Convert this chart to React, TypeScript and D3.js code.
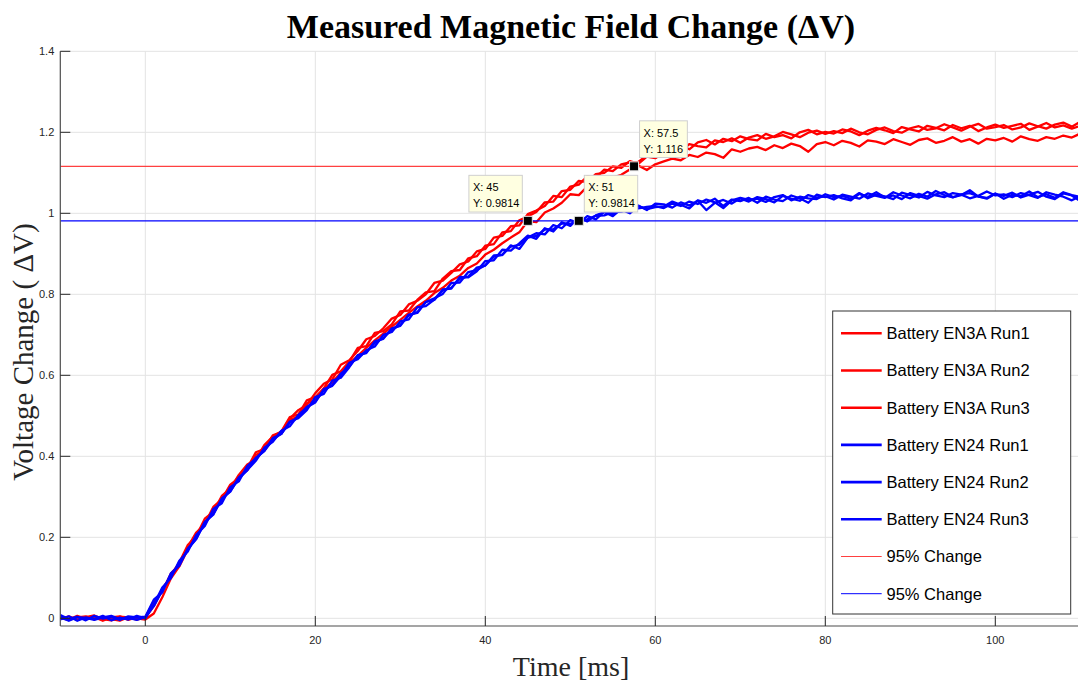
import React from "react";
import * as d3 from "d3";

const W = 1078;
const H = 686;

const timeStart = -10;
const timeStep = 1;

const en3aRun1 = [
  0.004, -0.003, 0.006, -0.002, 0.003, -0.006, 0.002, 0.005, -0.004, 0.003, 0.001,
  0.03, 0.072, 0.104, 0.138, 0.181, 0.203, 0.246, 0.263, 0.302, 0.32,
  0.354, 0.38, 0.392, 0.428, 0.449, 0.461, 0.497, 0.503, 0.538, 0.546,
  0.568, 0.601, 0.61, 0.634, 0.668, 0.672, 0.705, 0.709, 0.726, 0.758,
  0.76, 0.786, 0.805, 0.808, 0.839, 0.857, 0.86, 0.889, 0.894, 0.92,
  0.924, 0.953, 0.956, 0.983, 0.992, 1.003, 1.027, 1.029, 1.055, 1.058,
  1.08, 1.077, 1.097, 1.1, 1.116, 1.112, 1.129, 1.122, 1.14, 1.136,
  1.15, 1.158, 1.153, 1.171, 1.166, 1.163, 1.18, 1.176, 1.185, 1.174,
  1.187, 1.193, 1.184, 1.19, 1.201, 1.195, 1.188, 1.199, 1.204, 1.196,
  1.203, 1.198, 1.209, 1.2, 1.195, 1.206, 1.212, 1.203, 1.199, 1.21,
  1.215, 1.206, 1.21, 1.22, 1.212, 1.204, 1.214, 1.221, 1.209, 1.213,
  1.218, 1.207, 1.212, 1.222, 1.215, 1.209, 1.219, 1.224, 1.214, 1.226,
];

const en3aRun2 = [
  -0.002, 0.005, -0.004, 0.003, 0.007, -0.002, -0.005, 0.004, 0.002, -0.003, 0.002,
  0.042, 0.066, 0.11, 0.134, 0.176, 0.212, 0.233, 0.275, 0.294, 0.33,
  0.346, 0.371, 0.41, 0.418, 0.452, 0.46, 0.493, 0.514, 0.527, 0.556,
  0.579, 0.59, 0.626, 0.637, 0.66, 0.689, 0.697, 0.716, 0.74, 0.749,
  0.775, 0.784, 0.8, 0.828, 0.834, 0.853, 0.874, 0.881, 0.906, 0.912,
  0.94, 0.944, 0.968, 0.97, 0.998, 1.007, 1.018, 1.043, 1.04, 1.066,
  1.071, 1.091, 1.088, 1.108, 1.104, 1.121, 1.126, 1.127, 1.143, 1.138,
  1.146, 1.16, 1.167, 1.158, 1.175, 1.181, 1.17, 1.184, 1.178, 1.19,
  1.183, 1.18, 1.196, 1.188, 1.193, 1.185, 1.2, 1.206, 1.195, 1.201,
  1.197, 1.207, 1.202, 1.193, 1.204, 1.211, 1.205, 1.198, 1.213, 1.207,
  1.202, 1.216, 1.211, 1.205, 1.218, 1.21, 1.216, 1.203, 1.212, 1.219,
  1.211, 1.216, 1.221, 1.206, 1.214, 1.223, 1.212, 1.217, 1.209, 1.216,
];

const en3aRun3 = [
  0.001, -0.004, 0.002, 0.005, -0.003, 0.004, -0.002, -0.006, 0.003, 0.0, -0.003,
  0.012, 0.052, 0.098, 0.128, 0.17, 0.202, 0.235, 0.266, 0.293, 0.322,
  0.351, 0.366, 0.403, 0.414, 0.447, 0.456, 0.49, 0.498, 0.53, 0.54,
  0.566, 0.583, 0.606, 0.63, 0.648, 0.668, 0.686, 0.703, 0.72, 0.737,
  0.754, 0.77, 0.784, 0.803, 0.816, 0.834, 0.846, 0.865, 0.876, 0.898,
  0.91, 0.926, 0.94, 0.953, 0.981, 0.978, 1.002, 1.012, 1.026, 1.047,
  1.045, 1.066, 1.062, 1.081, 1.088, 1.095, 1.108, 1.118, 1.107, 1.121,
  1.128, 1.135, 1.131, 1.144, 1.139, 1.15, 1.146, 1.137, 1.158, 1.152,
  1.16, 1.164, 1.156, 1.168, 1.161, 1.172, 1.166, 1.152, 1.171, 1.176,
  1.168, 1.179, 1.174, 1.165, 1.18, 1.177, 1.171, 1.183, 1.176, 1.169,
  1.181, 1.185, 1.174, 1.179, 1.188, 1.177, 1.183, 1.172, 1.184, 1.18,
  1.186, 1.177, 1.19, 1.183, 1.179, 1.188, 1.184, 1.192, 1.187, 1.197,
];

const en24Run1 = [
  0.008, -0.002, 0.004, -0.005, 0.006, -0.001, 0.003, -0.004, 0.005, 0.002, 0.004,
  0.046, 0.064, 0.111, 0.13, 0.172, 0.197, 0.238, 0.256, 0.296, 0.313,
  0.348, 0.366, 0.389, 0.421, 0.436, 0.463, 0.474, 0.502, 0.521, 0.533,
  0.566, 0.574, 0.598, 0.631, 0.64, 0.662, 0.671, 0.7, 0.707, 0.733,
  0.738, 0.768, 0.771, 0.787, 0.812, 0.814, 0.843, 0.842, 0.857, 0.882,
  0.884, 0.91, 0.908, 0.926, 0.945, 0.937, 0.963, 0.955, 0.978, 0.969,
  0.99, 0.98, 0.995, 1.003, 0.993, 1.011, 1.004, 1.019, 1.008, 1.024,
  1.022, 1.014, 1.027, 1.019, 1.031, 1.008, 1.026, 1.033, 1.024, 1.037,
  1.029, 1.04, 1.035, 1.027, 1.043, 1.036, 1.031, 1.045, 1.039, 1.042,
  1.034, 1.046, 1.041, 1.036, 1.049, 1.043, 1.038, 1.052, 1.044, 1.037,
  1.048, 1.041, 1.055, 1.045, 1.039, 1.047, 1.05, 1.042, 1.036, 1.048,
  1.043, 1.051, 1.039, 1.046, 1.053, 1.041, 1.035, 1.049, 1.044, 1.03,
];

const en24Run2 = [
  -0.003, 0.005, -0.006, 0.002, -0.002, 0.006, -0.005, 0.002, -0.003, 0.006, 0.0,
  0.034, 0.076, 0.099, 0.142, 0.165, 0.206, 0.228, 0.27, 0.284, 0.324,
  0.338, 0.376, 0.395, 0.414, 0.445, 0.455, 0.486, 0.494, 0.514, 0.546,
  0.554, 0.587, 0.594, 0.62, 0.65, 0.655, 0.684, 0.69, 0.716, 0.722,
  0.75, 0.754, 0.781, 0.79, 0.801, 0.828, 0.829, 0.855, 0.86, 0.872,
  0.896, 0.897, 0.921, 0.912, 0.94, 0.951, 0.948, 0.971, 0.963, 0.983,
  0.976, 0.993, 0.985, 1.004, 0.998, 1.009, 1.0, 1.018, 1.01, 1.015,
  1.017, 1.029, 1.021, 1.012, 1.032, 1.026, 1.036, 1.018, 1.034, 1.03,
  1.038, 1.026, 1.041, 1.034, 1.03, 1.044, 1.037, 1.026, 1.046, 1.04,
  1.045, 1.037, 1.032, 1.048, 1.041, 1.052, 1.039, 1.044, 1.035, 1.05,
  1.043, 1.036, 1.047, 1.052, 1.04, 1.045, 1.057, 1.041, 1.038, 1.049,
  1.036, 1.046, 1.042, 1.054, 1.04, 1.047, 1.038, 1.052, 1.045, 1.04,
];

const en24Run3 = [
  0.002, -0.006, 0.003, 0.001, -0.004, 0.002, 0.006, -0.002, 0.001, -0.004, 0.003,
  0.03, 0.069, 0.106, 0.133, 0.171, 0.196, 0.237, 0.258, 0.294, 0.314,
  0.345, 0.366, 0.396, 0.413, 0.441, 0.456, 0.483, 0.497, 0.522, 0.536,
  0.563, 0.576, 0.604, 0.622, 0.648, 0.657, 0.68, 0.692, 0.713, 0.724,
  0.748, 0.756, 0.781, 0.786, 0.81, 0.816, 0.838, 0.844, 0.866, 0.871,
  0.893, 0.898, 0.918, 0.922, 0.94, 0.944, 0.96, 0.961, 0.975, 0.974,
  0.982, 0.985, 0.994, 0.995, 1.003, 1.004, 1.009, 1.012, 1.016, 1.018,
  1.013, 1.024, 1.018, 1.029, 1.023, 1.034, 1.027, 1.013, 1.032, 1.038,
  1.033, 1.036, 1.028, 1.04, 1.045, 1.032, 1.041, 1.037, 1.035, 1.047,
  1.04, 1.043, 1.036, 1.05, 1.037, 1.046, 1.042, 1.035, 1.051, 1.045,
  1.039, 1.053, 1.044, 1.04, 1.05, 1.046, 1.037, 1.043, 1.054, 1.044,
  1.047, 1.04, 1.05, 1.045, 1.038, 1.052, 1.046, 1.041, 1.032, 1.043,
];

const seriesNames = [
  "Battery EN3A Run1",
  "Battery EN3A Run2",
  "Battery EN3A Run3",
  "Battery EN24 Run1",
  "Battery EN24 Run2",
  "Battery EN24 Run3",
];
const seriesValues = [en3aRun1, en3aRun2, en3aRun3, en24Run1, en24Run2, en24Run3];
const seriesColors = ["#ff0000", "#ff0000", "#ff0000", "#0000ff", "#0000ff", "#0000ff"];

const thresholdNames = ["95% Change", "95% Change"];
const thresholdValues = [1.116, 0.9814];
const thresholdColors = ["#ff4040", "#0000ff"];

const tipX = [45, 51, 57.5];
const tipY = [0.9814, 0.9814, 1.116];
const tipSide = ["left", "right", "right"];

const xTicks = [0, 20, 40, 60, 80, 100];
const yTicks = [0, 0.2, 0.4, 0.6, 0.8, 1, 1.2, 1.4];

const xDomain = [-10, 110];
const yDomain = [-0.019, 1.4];

export default function App() {
  const plotLeft = 60.3;
  const plotRight = 1080.3;
  const plotTop = 51.3;
  const plotBottom = 626;

  const x = d3.scaleLinear().domain(xDomain).range([plotLeft, plotRight]);
  const y = d3.scaleLinear().domain(yDomain).range([plotBottom, plotTop]);

  const line = d3
    .line<number>()
    .x((_, i) => x(timeStart + i * timeStep))
    .y((v) => y(v));

  const tickFont = "'Liberation Sans', Arial, Helvetica, sans-serif";
  const serif = "'Liberation Serif', 'Times New Roman', serif";

  const legendX = 832.7;
  const legendY = 311;
  const legendW = 238;
  const legendH = 303;
  const legendItems = [
    ...seriesNames.map((n, i) => ({ name: n, color: seriesColors[i], w: 2.6 })),
    ...thresholdNames.map((n, i) => ({ name: n, color: thresholdColors[i], w: 1 })),
  ];
  const legendStep = 37.2;

  return (
    <svg
      width={W}
      height={H}
      style={{ position: "absolute", left: 0, top: 0, background: "#fff" }}
    >
      <rect x={0} y={0} width={W} height={H} fill="#fff" />
      <defs>
        <clipPath id="plotclip">
          <rect x={plotLeft} y={plotTop} width={plotRight - plotLeft} height={plotBottom - plotTop} />
        </clipPath>
      </defs>

      {/* grid */}
      {xTicks.map((t) => (
        <line key={"gx" + t} x1={x(t)} x2={x(t)} y1={plotTop} y2={plotBottom} stroke="#e3e3e3" strokeWidth={1} />
      ))}
      {yTicks.map((t) => (
        <line key={"gy" + t} x1={plotLeft} x2={plotRight} y1={y(t)} y2={y(t)} stroke="#e3e3e3" strokeWidth={1} />
      ))}

      {/* data */}
      <g clipPath="url(#plotclip)">
        {seriesValues.map((vals, i) => (
          <path
            key={"s" + i}
            d={line(vals) || ""}
            fill="none"
            stroke={seriesColors[i]}
            strokeWidth={2.3}
            strokeLinejoin="round"
          />
        ))}
        {thresholdValues.map((v, i) => (
          <line
            key={"th" + i}
            x1={plotLeft}
            x2={plotRight}
            y1={y(v)}
            y2={y(v)}
            stroke={thresholdColors[i]}
            strokeWidth={1.3}
          />
        ))}
      </g>

      {/* axes */}
      <line x1={plotLeft} x2={plotLeft} y1={plotTop} y2={plotBottom} stroke="#4d4d4d" strokeWidth={1.2} />
      <line x1={plotLeft} x2={plotRight} y1={plotBottom} y2={plotBottom} stroke="#4d4d4d" strokeWidth={1.2} />
      {yTicks.map((t) => (
        <g key={"yt" + t}>
          <line x1={plotLeft} x2={plotLeft + 10} y1={y(t)} y2={y(t)} stroke="#262626" strokeWidth={1} />
          <text
            x={plotLeft - 6}
            y={y(t)}
            dy="0.35em"
            textAnchor="end"
            fontFamily={tickFont}
            fontSize={11}
            fill="#262626"
          >
            {String(t)}
          </text>
        </g>
      ))}
      {xTicks.map((t) => (
        <g key={"xt" + t}>
          <line x1={x(t)} x2={x(t)} y1={plotBottom} y2={plotBottom - 10} stroke="#262626" strokeWidth={1} />
          <text
            x={x(t)}
            y={plotBottom + 18}
            textAnchor="middle"
            fontFamily={tickFont}
            fontSize={11}
            fill="#262626"
          >
            {String(t)}
          </text>
        </g>
      ))}

      {/* data tips */}
      {tipX.map((tx, i) => {
        const mx = x(tx);
        const my = y(tipY[i]);
        const l1 = "X: " + tx;
        const l2 = "Y: " + tipY[i];
        const bw = Math.max(l1.length, l2.length) * 5.6 + 3;
        const bh = 36.7;
        const bx = tipSide[i] === "left" ? mx - 5.5 - bw : mx + 5.5;
        const by = my - 45.5;
        return (
          <g key={"tip" + i}>
            <rect x={bx} y={by} width={bw} height={bh} fill="#ffffe1" stroke="#cfcfcf" strokeWidth={1} />
            <text x={bx + 4} y={by + 16} fontFamily={tickFont} fontSize={11} fill="#000">
              {l1}
            </text>
            <text x={bx + 4} y={by + 32} fontFamily={tickFont} fontSize={11} fill="#000">
              {l2}
            </text>
            <rect x={mx - 4.5} y={my - 4.5} width={9} height={9} fill="#000" stroke="#e8e8e8" strokeWidth={1} />
          </g>
        );
      })}

      {/* legend */}
      <rect x={legendX} y={legendY} width={legendW} height={legendH} fill="#fff" stroke="#333" strokeWidth={1} />
      {legendItems.map((it, i) => {
        const cy = 333.3 + i * legendStep;
        return (
          <g key={"lg" + i}>
            <line x1={841} x2={881.7} y1={cy} y2={cy} stroke={it.color} strokeWidth={it.w} />
            <text x={886.5} y={cy} dy="0.36em" fontFamily={tickFont} fontSize={16.5} fill="#000">
              {it.name}
            </text>
          </g>
        );
      })}

      {/* titles */}
      <text
        x={571}
        y={38}
        textAnchor="middle"
        fontFamily={serif}
        fontWeight="bold"
        fontSize={34}
        fill="#000"
      >
        Measured Magnetic Field Change (ΔV)
      </text>
      <text
        x={571}
        y={676}
        textAnchor="middle"
        fontFamily={serif}
        fontSize={28}
        fill="#262626"
      >
        Time [ms]
      </text>
      <text
        transform="translate(33,352) rotate(-90)"
        textAnchor="middle"
        fontFamily={serif}
        fontSize={29}
        fill="#262626"
      >
        Voltage Change ( ΔV)
      </text>
    </svg>
  );
}
